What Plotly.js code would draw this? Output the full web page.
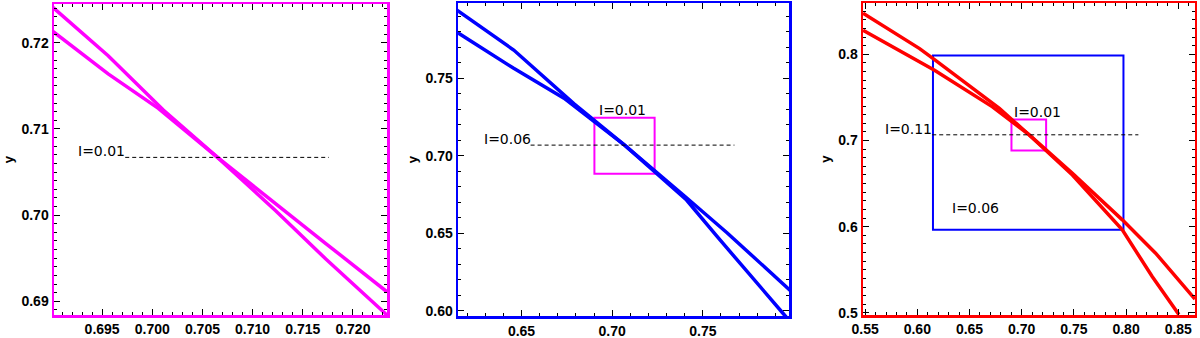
<!DOCTYPE html>
<html>
<head>
<meta charset="utf-8">
<script src="https://cdn.plot.ly/plotly-3.0.1.min.js"></script>
<style>
  html, body { margin: 0; padding: 0; background: #fff; }
  #chart { width: 1200px; height: 338px; }
</style>
</head>
<body>
<div id="chart"></div>
<script>
// zoom windows: each panel shows one window, and the smaller windows are drawn as boxes
var win01X = [0.6902, 0.7234], win01Y = [0.6884, 0.7245];
var win06X = [0.6150, 0.7975], win06Y = [0.5965, 0.7985];
var win11X = [0.5480, 0.8660], win11Y = [0.4975, 0.8595];

// panel 1 (I=0.01) curves
var x1A = [0.6900, 0.6956, 0.7011, 0.7065, 0.7123, 0.7173, 0.7234];
var y1A = [0.7242, 0.7185, 0.7122, 0.7067, 0.7005, 0.6949, 0.6884];
var x1B = [0.6900, 0.6956, 0.7006, 0.7065, 0.7173, 0.7234];
var y1B = [0.7214, 0.7164, 0.7124, 0.7067, 0.6967, 0.6911];

// panel 2 (I=0.06) curves
var x2A = [0.614, 0.6457, 0.679, 0.707, 0.741, 0.7577, 0.7938, 0.800];
var y2A = [0.7943, 0.7682, 0.7335, 0.7067, 0.6715, 0.6482, 0.5990, 0.5905];
var x2B = [0.614, 0.6457, 0.6734, 0.707, 0.741, 0.7633, 0.800];
var y2B = [0.7800, 0.7564, 0.7372, 0.7067, 0.6730, 0.6504, 0.6113];

// panel 3 (I=0.11) curves
var x3A = [0.548, 0.6022, 0.6165, 0.6786, 0.707, 0.7486, 0.7964, 0.825, 0.8506];
var y3A = [0.8478, 0.8066, 0.7939, 0.7372, 0.7067, 0.6600, 0.5963, 0.5422, 0.4980];
var x3B = [0.548, 0.6165, 0.672, 0.707, 0.7486, 0.7964, 0.8283, 0.866];
var y3B = [0.8278, 0.7815, 0.7390, 0.7067, 0.6620, 0.6079, 0.5693, 0.5160];

// dashed guide lines and their labels
var dashX = [[0.6973, 0.7176], [0.6550, 0.7674], [0.6143, 0.8118]];
var dashY = [0.7067, 0.7069, 0.7066];
var dashLabels = ['I=0.01', 'I=0.06', 'I=0.11'];

var MAGENTA = '#ff00ff', BLUE = '#0000ff', RED = '#ff0000';
var tickFont = {family: 'Liberation Sans, Arial, sans-serif', size: 14, color: '#000', weight: 'bold'};
var textFont = {family: 'DejaVu Sans, sans-serif', size: 14, color: '#000'};

function curve(x, y, color, n) {
    return {
        x: x, y: y, type: 'scatter', mode: 'lines',
        xaxis: 'x' + n, yaxis: 'y' + n,
        line: {color: color, width: 3.5},
        hoverinfo: 'skip'
    };
}

function dashed(i, n) {
    return {
        x: dashX[i], y: [dashY[i], dashY[i]], type: 'scatter', mode: 'lines',
        xaxis: 'x' + n, yaxis: 'y' + n,
        line: {color: '#000', width: 1, dash: '4px,3px'},
        hoverinfo: 'skip'
    };
}

function axis(range, domain, anchor, dtick, minor, fmt, color) {
    return {
        range: range, domain: domain, anchor: anchor,
        dtick: dtick, tick0: 0, tickformat: fmt,
        ticks: 'inside', ticklen: 6, tickwidth: 1, tickcolor: '#000',
        minor: {dtick: minor, tick0: 0, ticks: 'inside', ticklen: 3, tickwidth: 1, tickcolor: '#000', showgrid: false},
        showline: true, linecolor: color, linewidth: 2.5, mirror: 'allticks',
        showgrid: false, zeroline: false, tickfont: tickFont,
        fixedrange: true
    };
}

function yaxis(range, domain, anchor, dtick, minor, fmt, color) {
    var a = axis(range, domain, anchor, dtick, minor, fmt, color);
    a.title = {text: 'y', font: {family: 'Liberation Sans, Arial, sans-serif', size: 13, color: '#000', weight: 'bold'}, standoff: 5};
    return a;
}

function box(xr, yr, n, color) {
    return {
        type: 'rect', xref: 'x' + n, yref: 'y' + n,
        x0: xr[0], x1: xr[1], y0: yr[0], y1: yr[1],
        line: {color: color, width: 2}, fillcolor: 'rgba(0,0,0,0)', layer: 'below'
    };
}

var data = [
    curve(x1A, y1A, MAGENTA, ''), curve(x1B, y1B, MAGENTA, ''), dashed(0, ''),
    curve(x2A, y2A, BLUE, '2'), curve(x2B, y2B, BLUE, '2'), dashed(1, '2'),
    curve(x3A, y3A, RED, '3'), curve(x3B, y3B, RED, '3'), dashed(2, '3')
];

var annotations = [];
// dashed line labels, to the left of each line
[['x', 'y'], ['x2', 'y2'], ['x3', 'y3']].forEach(function (r, i) {
    annotations.push({
        xref: r[0], yref: r[1], x: dashX[i][0], y: dashY[i],
        text: dashLabels[i], showarrow: false, font: textFont,
        xanchor: 'right', yanchor: 'middle', yshift: 6, xshift: 2
    });
});
// window labels next to the boxes
annotations.push({xref: 'x2', yref: 'y2', x: win01X[0], y: win01Y[1], text: 'I=0.01', showarrow: false,
    font: textFont, xanchor: 'left', yanchor: 'bottom', xshift: 3, yshift: -2});
annotations.push({xref: 'x3', yref: 'y3', x: win01X[0], y: win01Y[1], text: 'I=0.01', showarrow: false,
    font: textFont, xanchor: 'left', yanchor: 'bottom', xshift: 1, yshift: -3});
annotations.push({xref: 'x3', yref: 'y3', x: win06X[0], y: win06Y[0], text: 'I=0.06', showarrow: false,
    font: textFont, xanchor: 'left', yanchor: 'middle', xshift: 17, yshift: 22});

var layout = {
    width: 1200, height: 338,
    margin: {l: 0, r: 0, t: 0, b: 0},
    paper_bgcolor: '#fff', plot_bgcolor: '#fff',
    showlegend: false,
    xaxis:  axis(win01X, [0.045, 0.3225], 'y', 0.005, 0.001, '.3f', MAGENTA),
    yaxis:  yaxis(win01Y, [0.068, 0.988], 'x', 0.01, 0.001, '.2f', MAGENTA),
    xaxis2: axis(win06X, [0.3817, 0.6575], 'y2', 0.05, 0.01, '.2f', BLUE),
    yaxis2: yaxis(win06Y, [0.064, 0.991], 'x2', 0.05, 0.01, '.2f', BLUE),
    xaxis3: axis(win11X, [0.7192, 0.9958], 'y3', 0.05, 0.01, '.2f', RED),
    yaxis3: yaxis(win11Y, [0.068, 0.991], 'x3', 0.1, 0.01, '.1f', RED),
    shapes: [
        box(win01X, win01Y, '2', MAGENTA),
        box(win06X, win06Y, '3', BLUE),
        box(win01X, win01Y, '3', MAGENTA)
    ],
    annotations: annotations
};

Plotly.newPlot('chart', data, layout, {staticPlot: true});
</script>
</body>
</html>
